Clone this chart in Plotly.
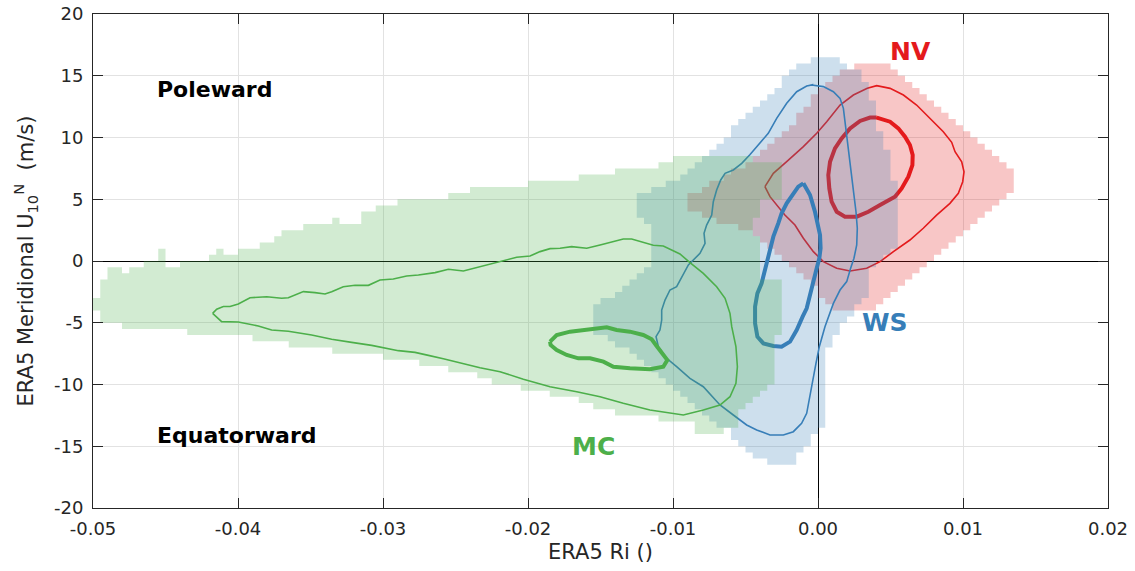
import numpy as np
import plotly.graph_objects as go

# ---------------- data ----------------
x_ticks = [-0.05, -0.04, -0.03, -0.02, -0.01, 0.0, 0.01, 0.02]
x_tick_labels = ["-0.05", "-0.04", "-0.03", "-0.02", "-0.01", "0.00", "0.01", "0.02"]
y_ticks = [-20, -15, -10, -5, 0, 5, 10, 15, 20]
y_tick_labels = ["-20", "-15", "-10", "-5", "0", "5", "10", "15", "20"]

# bin size of the occupied (histogram) region
RI_BIN = 0.0005
U_BIN = 0.5

# MC region: column runs (Ri left, Ri right, U bottom, U top)
MC_col_x0 = [-0.050, -0.0495, -0.049, -0.048, -0.0475, -0.0465, -0.0455, -0.045, -0.044, -0.0435,
             -0.042, -0.0415, -0.041, -0.040, -0.039, -0.0385, -0.0375, -0.037, -0.0365, -0.0355,
             -0.0335, -0.033, -0.0315, -0.0305, -0.030, -0.029, -0.0275, -0.0255]
MC_col_x1 = [-0.0495, -0.049, -0.048, -0.0475, -0.0465, -0.0455, -0.045, -0.044, -0.0435, -0.042,
             -0.0415, -0.041, -0.040, -0.039, -0.0385, -0.0375, -0.037, -0.0365, -0.0355, -0.0335,
             -0.033, -0.0315, -0.0305, -0.030, -0.029, -0.0275, -0.0255, -0.024]
MC_col_ybot = [-4.0, -5.0, -5.0, -5.5, -5.5, -5.5, -5.5, -5.5, -5.5, -6.0,
               -6.0, -6.0, -6.0, -6.0, -6.5, -6.5, -6.5, -6.5, -7.0, -7.0,
               -7.5, -7.5, -7.5, -7.5, -8.0, -8.0, -8.5, -9.0]
MC_col_ytop = [-3.0, -1.5, -0.5, -1.0, -0.5, 0.0, 1.0, -0.5, 0.0, 0.0,
               0.5, 1.0, 0.5, 1.0, 1.0, 1.5, 2.0, 2.5, 2.5, 3.0,
               3.5, 3.0, 4.0, 4.5, 4.5, 5.0, 5.0, 5.5]
# MC region: row runs (U bottom of row, Ri left, Ri right)
MC_row_u = [8.0, 7.5, 7.0, 6.5, 6.0, 5.5, 5.0, 4.5, 4.0, 3.5, 3.0, 2.5, 2.0, 1.5, 1.0, 0.5, 0.0,
            -0.5, -1.0, -1.5, -2.0, -2.5, -3.0, -3.5, -4.0, -4.5, -5.0, -5.5, -6.0, -6.5, -7.0,
            -7.5, -8.0, -8.5, -9.0, -9.5, -10.0, -10.5, -11.0, -11.5, -12.0, -12.5, -13.0, -13.5, -14.0]
MC_row_left = [-0.010, -0.011, -0.014, -0.0165, -0.020, -0.024, -0.024, -0.024, -0.024, -0.024,
               -0.024, -0.024, -0.024, -0.024, -0.024, -0.024, -0.024, -0.024, -0.024, -0.024,
               -0.024, -0.024, -0.024, -0.024, -0.024, -0.024, -0.024, -0.024, -0.024, -0.024,
               -0.024, -0.024, -0.024, -0.024, -0.024, -0.0235, -0.0225, -0.0205, -0.0185, -0.0165,
               -0.0155, -0.014, -0.011, -0.0085, -0.0085]
MC_row_right = [-0.0045, -0.0025, -0.0025, -0.0025, -0.0025, -0.0025, -0.0025, -0.004, -0.004, -0.004,
                -0.0045, -0.0045, -0.0045, -0.004, -0.004, -0.004, -0.004, -0.004, -0.004, -0.004,
                -0.0025, -0.0025, -0.0025, -0.0025, -0.0025, -0.0025, -0.0025, -0.0025, -0.0025, -0.003,
                -0.003, -0.003, -0.003, -0.003, -0.003, -0.003, -0.003, -0.0035, -0.004, -0.0045,
                -0.005, -0.0055, -0.0055, -0.0055, -0.0065]

# WS region: row runs
WS_row_u = [16.0, 15.5, 15.0, 14.5, 14.0, 13.5, 13.0, 12.5, 12.0, 11.5, 11.0, 10.5, 10.0, 9.5, 9.0,
            8.5, 8.0, 7.5, 7.0, 6.5, 6.0, 5.5, 5.0, 4.5, 4.0, 3.5, 3.0, 2.5, 2.0, 1.5, 1.0, 0.5,
            0.0, -0.5, -1.0, -1.5, -2.0, -2.5, -3.0, -3.5, -4.0, -4.5, -5.0, -5.5, -6.0, -6.5,
            -7.0, -7.5, -8.0, -8.5, -9.0, -9.5, -10.0, -10.5, -11.0, -11.5, -12.0, -12.5, -13.0,
            -13.5, -14.0, -14.5, -15.0, -15.5, -16.0, -16.5]
WS_row_left = [-0.0005, -0.0015, -0.002, -0.0025, -0.0025, -0.003, -0.0035, -0.004, -0.0045, -0.005,
               -0.0055, -0.006, -0.006, -0.0065, -0.007, -0.0075, -0.008, -0.0085, -0.009, -0.0095,
               -0.0105, -0.0115, -0.0125, -0.0125, -0.0125, -0.0125, -0.012, -0.0115, -0.0115, -0.0115,
               -0.0115, -0.0115, -0.0115, -0.0115, -0.012, -0.0125, -0.013, -0.0135, -0.014, -0.015,
               -0.0155, -0.0155, -0.0155, -0.0155, -0.0155, -0.0145, -0.014, -0.013, -0.0125, -0.012,
               -0.0115, -0.011, -0.0105, -0.010, -0.0095, -0.009, -0.0085, -0.008, -0.0075, -0.007,
               -0.006, -0.006, -0.0055, -0.005, -0.0045, -0.0035]
WS_row_right = [0.0015, 0.002, 0.003, 0.003, 0.0035, 0.0035, 0.0035, 0.004, 0.004, 0.004,
                0.004, 0.004, 0.0045, 0.0045, 0.0045, 0.005, 0.005, 0.005, 0.005, 0.005,
                0.0055, 0.0055, 0.0055, 0.0055, 0.0055, 0.0055, 0.0055, 0.0055, 0.0055, 0.0055,
                0.0055, 0.005, 0.0045, 0.004, 0.0035, 0.0035, 0.0035, 0.0035, 0.0035, 0.003,
                0.0025, 0.0025, 0.002, 0.0015, 0.0015, 0.001, 0.001, 0.0005, 0.0005, 0.0005,
                0.0005, 0.0005, 0.0005, 0.0005, 0.0005, 0.0005, 0.0005, 0.0005, 0.0005, 0.0005,
                0.0, -0.0005, -0.0005, -0.001, -0.0015, -0.0015]

# NV region: row runs
NV_row_u = [15.5, 15.0, 14.5, 14.0, 13.5, 13.0, 12.5, 12.0, 11.5, 11.0, 10.5, 10.0, 9.5, 9.0, 8.5,
            8.0, 7.5, 7.0, 6.5, 6.0, 5.5, 5.0, 4.5, 4.0, 3.5, 3.0, 2.5, 2.0, 1.5, 1.0, 0.5, 0.0,
            -0.5, -1.0, -1.5, -2.0, -2.5, -3.0, -3.5, -4.0]
NV_row_left = [0.0025, 0.0015, 0.001, 0.0005, 0.0, -0.0005, -0.0005, -0.001, -0.0015, -0.0015,
               -0.002, -0.0025, -0.003, -0.0035, -0.004, -0.0045, -0.005, -0.006, -0.0065, -0.0075,
               -0.008, -0.009, -0.009, -0.009, -0.008, -0.007, -0.0055, -0.0045, -0.004, -0.0035,
               -0.003, -0.0025, -0.002, -0.0015, -0.001, -0.0005, 0.0, 0.0, 0.0005, 0.001]
NV_row_right = [0.005, 0.0055, 0.006, 0.0065, 0.007, 0.0075, 0.008, 0.0085, 0.009, 0.0095,
                0.010, 0.0105, 0.011, 0.0115, 0.012, 0.0125, 0.013, 0.0135, 0.0135, 0.0135,
                0.0135, 0.013, 0.0125, 0.012, 0.0115, 0.011, 0.0105, 0.010, 0.0095, 0.009,
                0.0085, 0.008, 0.0075, 0.007, 0.0065, 0.006, 0.0055, 0.005, 0.0045, 0.004]

# contour lines (Ri, U)
MC_outer_ri = [-0.04175, -0.04147, -0.04101, -0.04055, -0.03998, -0.03917, -0.03802, -0.03699, -0.03653,
               -0.03595, -0.03549, -0.03469, -0.03400, -0.03354, -0.03274, -0.03193, -0.03101, -0.03021,
               -0.02929, -0.02837, -0.02756, -0.02641, -0.02549, -0.02446, -0.02331, -0.02193, -0.02078,
               -0.01986, -0.01917, -0.01848, -0.01779, -0.01699, -0.01595, -0.01503, -0.01411, -0.01343,
               -0.01285, -0.01205, -0.01136, -0.01067, -0.01009, -0.00952, -0.00883, -0.00791, -0.00699,
               -0.00641, -0.00607, -0.00595, -0.00566, -0.00556, -0.00566, -0.00607, -0.00676, -0.00791,
               -0.00929, -0.01044, -0.01159, -0.01343, -0.01503, -0.01664, -0.01848, -0.02032, -0.02193,
               -0.02331, -0.02446, -0.02538, -0.02584, -0.02687, -0.02779, -0.02894, -0.02986, -0.03078,
               -0.03216, -0.03354, -0.03492, -0.03653, -0.03768, -0.03860, -0.03998, -0.04113, -0.04175]
MC_outer_u = [-4.24, -3.91, -3.69, -3.69, -3.48, -2.97, -2.89, -3.02, -2.97,
              -2.70, -2.48, -2.56, -2.67, -2.48, -2.08, -1.97, -1.97, -1.54,
              -1.46, -1.21, -1.13, -0.94, -0.67, -0.81, -0.46, -0.05, 0.30,
              0.40, 0.76, 1.00, 1.03, 1.16, 1.03, 1.30, 1.57, 1.78,
              1.78, 1.48, 1.27, 1.21, 0.89, 0.57, -0.13, -1.00, -2.08,
              -3.02, -4.24, -5.32, -6.94, -8.56, -9.91, -10.99, -11.66, -12.06,
              -12.47, -12.28, -12.06, -11.52, -10.99, -10.58, -10.18, -9.58, -8.96,
              -8.64, -8.29, -8.02, -7.91, -7.64, -7.40, -7.26, -7.04, -6.83,
              -6.59, -6.34, -5.99, -5.69, -5.59, -5.26, -4.94, -4.91, -4.24]
MC_inner_ri = [-0.01848, -0.01802, -0.01710, -0.01572, -0.01457, -0.01389, -0.01297, -0.01205, -0.01147,
               -0.01113, -0.01078, -0.01039, -0.01067, -0.01159, -0.01297, -0.01411, -0.01480, -0.01572,
               -0.01653, -0.01733, -0.01802, -0.01844, -0.01848]
MC_inner_u = [-6.53, -5.99, -5.72, -5.53, -5.37, -5.59, -5.72, -5.99, -6.34,
              -6.88, -7.48, -8.02, -8.56, -8.77, -8.69, -8.56, -8.15, -7.88,
              -7.88, -7.61, -7.21, -6.80, -6.53]

WS_outer_ri = [-0.00044, 0.00037, 0.00106, 0.00152, 0.00175, 0.00186, 0.00198, 0.00209, 0.00221, 0.00232,
               0.00248, 0.00262, 0.00271, 0.00267, 0.00248, 0.00225, 0.00198, 0.00152, 0.00106, 0.00048,
               0.00009, -0.00014, -0.00037, -0.00055, -0.00078, -0.00113, -0.00170, -0.00239, -0.00331,
               -0.00423, -0.00492, -0.00584, -0.00676, -0.00791, -0.00883, -0.00975, -0.01044, -0.01101,
               -0.01117, -0.01090, -0.01078, -0.01078, -0.01055, -0.01021, -0.00975, -0.00894, -0.00814,
               -0.00779, -0.00786, -0.00768, -0.00733, -0.00722, -0.00699, -0.00671, -0.00641, -0.00584,
               -0.00526, -0.00470, -0.00420, -0.00343, -0.00285, -0.00216, -0.00147, -0.00078, -0.00032,
               -0.00044]
WS_outer_u = [14.25, 14.12, 13.71, 13.17, 12.36, 11.28, 10.20, 9.12, 7.77, 6.42,
              5.34, 3.99, 2.65, 1.30, 0.22, -0.59, -1.67, -2.35, -3.43, -5.32,
              -6.94, -8.29, -9.64, -10.99, -12.33, -13.14, -13.82, -14.09, -14.09,
              -13.68, -13.28, -12.47, -11.66, -10.18, -9.50, -8.56, -7.88, -6.94,
              -6.13, -5.59, -4.78, -3.97, -3.16, -2.35, -2.08, -0.32, 0.62,
              1.43, 2.24, 2.91, 3.72, 4.80, 5.75, 6.56, 7.10, 7.37,
              7.91, 8.60, 9.30, 10.34, 11.55, 12.77, 13.71, 14.17, 14.28,
              14.25]
WS_inner_ri = [-0.00101, -0.00055, -0.00021, 0.00002, 0.00014, 0.00018, 0.00009, -0.00009, -0.00032,
               -0.00055, -0.00078, -0.00106, -0.00147, -0.00193, -0.00251, -0.00308, -0.00377, -0.00418,
               -0.00434, -0.00434, -0.00418, -0.00389, -0.00354, -0.00331, -0.00308, -0.00274, -0.00251,
               -0.00216, -0.00170, -0.00136, -0.00101]
WS_inner_u = [6.29, 5.34, 3.99, 2.91, 2.11, 1.03, 0.22, -0.59, -1.67,
              -2.75, -3.83, -4.51, -5.59, -6.53, -6.94, -6.88, -6.67, -6.13,
              -5.05, -3.70, -2.62, -1.81, -0.19, 0.89, 1.97, 3.05, 3.86,
              4.67, 5.48, 6.02, 6.29]

NV_outer_ri = [-0.00366, -0.00308, -0.00216, -0.00101, -0.00009, 0.00060, 0.00152, 0.00244, 0.00340,
               0.00405, 0.00497, 0.00589, 0.00680, 0.00772, 0.00864, 0.00922, 0.00945, 0.00991, 0.01007,
               0.00998, 0.00968, 0.00910, 0.00818, 0.00726, 0.00634, 0.00520, 0.00428, 0.00336, 0.00221,
               0.00129, 0.00037, -0.00032, -0.00101, -0.00159, -0.00230, -0.00331, -0.00366]
NV_outer_u = [6.02, 7.10, 8.04, 9.26, 10.34, 11.28, 12.63, 13.44, 13.98,
              14.20, 13.98, 13.44, 12.63, 11.55, 10.47, 9.61, 8.85, 8.04, 7.23,
              6.42, 5.48, 4.67, 3.72, 2.65, 1.70, 0.76, -0.05, -0.59, -0.81,
              -0.59, -0.05, 0.76, 1.84, 2.91, 3.75, 5.21, 6.02]
NV_inner_ri = [0.00405, 0.00497, 0.00554, 0.00600, 0.00634, 0.00653, 0.00651, 0.00623, 0.00577, 0.00531,
               0.00428, 0.00347, 0.00267, 0.00186, 0.00129, 0.00094, 0.00078, 0.00071, 0.00083, 0.00117,
               0.00163, 0.00221, 0.00290, 0.00359, 0.00405]
NV_inner_u = [11.61, 11.28, 10.74, 10.07, 9.39, 8.58, 7.77, 6.83, 5.88, 5.21,
              4.53, 3.99, 3.59, 3.59, 3.99, 4.80, 5.88, 6.96, 8.04, 9.12,
              9.93, 10.74, 11.34, 11.61, 11.61]

# ---------------- helpers ----------------
RI0, U0 = -0.0505, -17.5
NX, NY = 140, 72


def ix(v):
    return int(round((v - RI0) / RI_BIN))


def iy(v):
    return int(round((v - U0) / U_BIN))


def build_mask(rows_u, rows_l, rows_r, cols=None):
    m = np.zeros((NY, NX), dtype=bool)
    for u, l, r in zip(rows_u, rows_l, rows_r):
        m[iy(u), ix(l):ix(r)] = True
    if cols is not None:
        for x0, x1, y0, y1 in zip(*cols):
            m[iy(y0):iy(y1), ix(x0):ix(x1)] = True
    return m


def outline(m):
    edges = {}

    def add(a, b):
        edges.setdefault(a, []).append(b)

    ny, nx = m.shape
    for j in range(ny):
        for i in range(nx):
            if not m[j, i]:
                continue
            if j == 0 or not m[j - 1, i]:
                add((i, j), (i + 1, j))
            if i == nx - 1 or not m[j, i + 1]:
                add((i + 1, j), (i + 1, j + 1))
            if j == ny - 1 or not m[j + 1, i]:
                add((i + 1, j + 1), (i, j + 1))
            if i == 0 or not m[j, i - 1]:
                add((i, j + 1), (i, j))
    xs, ys = [], []
    while edges:
        start = next(iter(edges))
        cur = start
        loop = [cur]
        while True:
            outs = edges[cur]
            nxt = outs.pop()
            if not outs:
                del edges[cur]
            loop.append(nxt)
            cur = nxt
            if cur == start:
                break
        for (i, j) in loop:
            xs.append(RI0 + i * RI_BIN)
            ys.append(U0 + j * U_BIN)
        xs.append(None)
        ys.append(None)
    return xs, ys


C_MC = (77, 175, 74)
C_WS = (55, 126, 184)
C_NV = (228, 26, 28)
ALPHA = 0.25


def rgb(c):
    return "rgb(%d,%d,%d)" % c


def rgba(c, a):
    return "rgba(%d,%d,%d,%.2f)" % (c[0], c[1], c[2], a)


fig = go.Figure()

groups = [
    ("NV", C_NV, NV_outer_ri, NV_outer_u, NV_inner_ri, NV_inner_u,
     build_mask(NV_row_u, NV_row_left, NV_row_right)),
    ("WS", C_WS, WS_outer_ri, WS_outer_u, WS_inner_ri, WS_inner_u,
     build_mask(WS_row_u, WS_row_left, WS_row_right)),
    ("MC", C_MC, MC_outer_ri, MC_outer_u, MC_inner_ri, MC_inner_u,
     build_mask(MC_row_u, MC_row_left, MC_row_right,
                (MC_col_x0, MC_col_x1, MC_col_ybot, MC_col_ytop))),
]

for name, col, ox, oy, inx, iny, mask in groups:
    fig.add_trace(go.Scatter(x=ox, y=oy, mode="lines", line=dict(color=rgb(col), width=1.6),
                             hoverinfo="skip", showlegend=False))
    fig.add_trace(go.Scatter(x=inx, y=iny, mode="lines", line=dict(color=rgb(col), width=4),
                             hoverinfo="skip", showlegend=False))
    px, py = outline(mask)
    fig.add_trace(go.Scatter(x=px, y=py, mode="lines", fill="toself",
                             fillcolor=rgba(col, ALPHA), line=dict(width=0),
                             hoverinfo="skip", showlegend=False))

FONT = "DejaVu Sans"
TXT = "#262626"

annos = [
    dict(x=-0.0457, y=13.9, text="<b>Poleward</b>", xanchor="left", font=dict(family=FONT, size=22, color="black")),
    dict(x=-0.0457, y=-14.1, text="<b>Equatorward</b>", xanchor="left", font=dict(family=FONT, size=22, color="black")),
    dict(x=0.0064, y=17.0, text="<b>NV</b>", xanchor="center", font=dict(family=FONT, size=25, color=rgb(C_NV))),
    dict(x=0.0046, y=-5.0, text="<b>WS</b>", xanchor="center", font=dict(family=FONT, size=25, color=rgb(C_WS))),
    dict(x=-0.01545, y=-15.06, text="<b>MC</b>", xanchor="center", font=dict(family=FONT, size=25, color=rgb(C_MC))),
]
for a in annos:
    fig.add_annotation(xref="x", yref="y", showarrow=False, yanchor="middle", **a)

axis_common = dict(
    showgrid=True, gridcolor="#e2e2e2", gridwidth=1,
    zeroline=True, zerolinecolor="black", zerolinewidth=1,
    showline=True, linecolor=TXT, linewidth=1, mirror="ticks",
    ticks="inside", ticklen=10, tickcolor=TXT, tickwidth=1,
    ticklabeloverflow="allow",
    tickfont=dict(family=FONT, size=18, color=TXT),
)

fig.update_xaxes(range=[-0.05, 0.02], tickmode="array", tickvals=x_ticks, ticktext=x_tick_labels,
                 ticklabelstandoff=4,
                 title=dict(text="ERA5 Ri ()", font=dict(family=FONT, size=21, color=TXT), standoff=6),
                 **axis_common)
fig.update_yaxes(range=[-20, 20], tickmode="array", tickvals=y_ticks, ticktext=y_tick_labels,
                 ticklabelstandoff=5,
                 title=dict(text="ERA5 Meridional U<sub>10</sub><sup>N</sup>  (m/s)",
                            font=dict(family=FONT, size=21, color=TXT), standoff=14),
                 **axis_common)

fig.update_layout(width=1135, height=571, margin=dict(l=93, r=27, t=14, b=63, autoexpand=False),
                  plot_bgcolor="white", paper_bgcolor="white", showlegend=False,
                  font=dict(family=FONT, color=TXT))

# remove the default page margin so the figure fills the window exactly; hide the mode bar
fig.write_html("out.html", config={"displayModeBar": False},
               post_script="document.body.style.margin='0';")
